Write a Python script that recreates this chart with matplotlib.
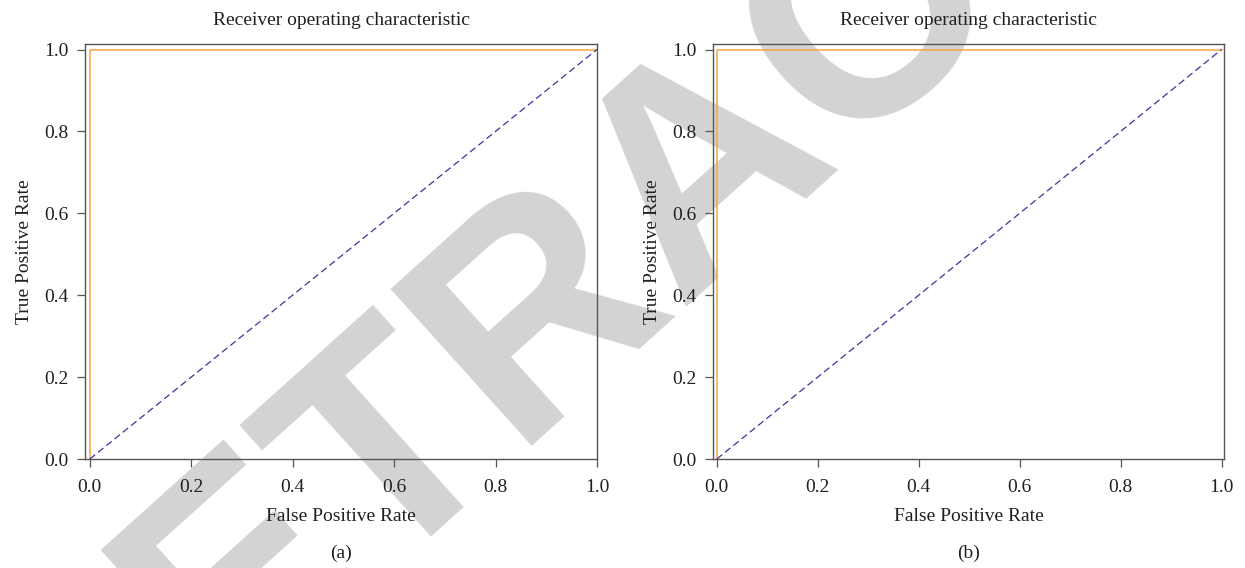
import numpy as np
import matplotlib.pyplot as plt

plt.rcParams['font.family'] = ['Liberation Serif', 'DejaVu Serif']

# ROC curves (both panels: perfect classifier)
fpr_a = [0.0, 0.0, 1.0]
tpr_a = [0.0, 1.0, 1.0]
fpr_b = [0.0, 0.0, 1.0]
tpr_b = [0.0, 1.0, 1.0]
chance = [0.0, 1.0]
ticks = [0.0, 0.2, 0.4, 0.6, 0.8, 1.0]
panel_labels = ["(a)", "(b)"]

txt_col = "#231F20"
spine_col = "#555555"
roc_col = "#F7A541"
diag_col = "#4B2C9C"

fig = plt.figure(figsize=(12.45, 5.68), dpi=100)

# watermark behind the plots
fig.text(0.567, 0.71, "RETRACTED", fontsize=220, fontweight="bold",
         family="Liberation Sans", color="#D3D3D3", rotation=42,
         rotation_mode="anchor", ha="center", va="center", zorder=-5)

ax_a = fig.add_axes([0.0683, 0.1919, 0.4112, 0.7306])
ax_b = fig.add_axes([0.5725, 0.1919, 0.4107, 0.7306])

panels = [(ax_a, fpr_a, tpr_a, (-0.0093, 1.0)),
          (ax_b, fpr_b, tpr_b, (-0.008, 1.005))]

for i, (ax, fpr, tpr, xl) in enumerate(panels):
    ax.patch.set_alpha(0)
    ax.plot(fpr, tpr, color=roc_col, lw=1.1)
    ax.plot(chance, chance, color=diag_col, lw=0.9, linestyle=(0, (5.5, 3)))
    ax.set_xlim(xl)
    ax.set_ylim(0.0, 1.0134)
    ax.set_xticks(ticks)
    ax.set_yticks(ticks)
    ax.tick_params(labelsize=14, colors=txt_col, length=5.8, width=0.9)
    ax.tick_params(axis="x", pad=8.5)
    ax.tick_params(axis="y", pad=6)
    for sp in ax.spines.values():
        sp.set_color(spine_col)
        sp.set_linewidth(1.0)
    ax.tick_params(color=spine_col)
    ax.set_xlabel("False Positive Rate", fontsize=14, color=txt_col, labelpad=9)
    ax.set_ylabel("True Positive Rate", fontsize=14, color=txt_col, labelpad=8)
    ax.set_title("Receiver operating characteristic", fontsize=14,
                 color=txt_col, pad=14)
    pos = ax.get_position()
    fig.text(pos.x0 + pos.width / 2, 0.026, panel_labels[i], fontsize=14,
             color=txt_col, ha="center", va="center")

plt.savefig("out.png", dpi=100)
